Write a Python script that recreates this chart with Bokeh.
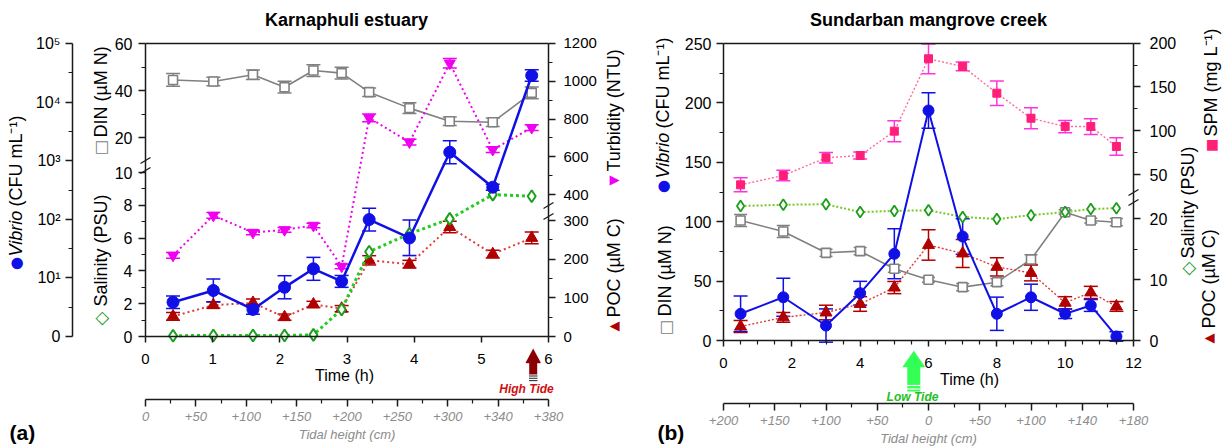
import math
from bokeh.plotting import figure
from bokeh.models import (Range1d, LinearAxis, LogAxis, LogScale, FixedTicker,
                          CustomJSTickFormatter, ColumnDataSource, Whisker, TeeHead,
                          Label, Arrow)
from bokeh.layouts import row
from bokeh.embed import file_html
from bokeh.resources import INLINE

# ---------------- (a) Karnaphuli estuary : data ----------------
ka_time = [0.41, 1.01, 1.60, 2.07, 2.50, 2.92, 3.33, 3.93, 4.53, 5.17, 5.75]
ka_vibrio = [3.85, 6.1, 2.9, 6.9, 14.3, 8.7, 99, 48, 1396, 353, 28400]
ka_vibrio_lo = [3.0, 3.9, 2.4, 4.4, 9.1, 6.9, 63, 24, 885, 314, 22700]
ka_vibrio_hi = [4.9, 9.6, 3.5, 10.9, 22.4, 11.0, 155, 97, 2200, 397, 35500]
ka_din = [44.5, 43.8, 46.7, 41.4, 48.5, 47.4, 39.3, 32.5, 26.9, 26.5, 39.0]
ka_din_err = [2.7, 1.8, 2.0, 2.5, 2.5, 2.5, 1.8, 2.3, 1.8, 1.8, 2.5]
ka_salinity = [0.05, 0.06, 0.06, 0.06, 0.10, 1.65, 5.17, 6.26, 7.17, 8.65, 8.55]
ka_turbidity = [80, 291, 201, 215, 238, 22, 806, 678, 1094, 638, 754]
ka_turbidity_err = [15, 15, 12, 12, 12, 12, 20, 15, 25, 15, 15]
ka_poc = [52, 81, 87, 50, 83, 72, 197, 187, 283, 213, 255]
ka_poc_err = [10, 8, 10, 8, 8, 8, 12, 10, 15, 10, 15]

ka_time_ticks = [0, 1, 2, 3, 4, 5, 6]
ka_tide_labels = ["0", "+50", "+100", "+150", "+200", "+250", "+300", "+340", "+380"]
ka_vib_ticks = [1, 10, 100, 1000, 10000, 100000]
ka_vib_labels = ["0", "10\u00b9", "10\u00b2", "10\u00b3", "10\u2074", "10\u2075"]
ka_sal_ticks = [0, 2, 4, 6, 8, 10]
ka_sal_minor = [1, 3, 5, 7, 9]
ka_din_ticks = [20, 40, 60]
ka_din_minor = [30, 50]
ka_poc_ticks = [0, 100, 200, 300]
ka_poc_minor = [50, 150, 250]
ka_turb_ticks = [400, 600, 800, 1000, 1200]
ka_turb_minor = [500, 700, 900, 1100]

# ---------------- (b) Sundarban mangrove creek : data ----------------
su_time = [0.5, 1.75, 3.0, 4.0, 5.0, 6.0, 7.0, 8.0, 9.0, 10.0, 10.75, 11.5]
su_vibrio = [22.5, 36.4, 12.6, 39.8, 73, 193.6, 87.5, 22.5, 36.4, 22.5, 29.5, 3.4]
su_vibrio_err = [15, 16, 14, 10, 21, 15, 15, 14, 11, 4, 5, 4]
su_din = [101, 91.8, 73.8, 75.2, 60.4, 51.1, 44.9, 49.1, 68.2, 108, 101, 99.6]
su_din_err = [5, 5, 3, 3, 3, 2, 3, 3, 4, 2, 2, 3]
su_salinity = [22.1, 22.3, 22.4, 21.1, 21.3, 21.4, 20.3, 19.95, 20.6, 21.1, 21.6, 21.75]
su_poc = [2.3, 3.8, 4.6, 6.0, 8.7, 15.7, 14.3, 12.1, 11.1, 6.2, 7.9, 5.6]
su_poc_err = [1.0, 0.8, 1.2, 1.2, 1.0, 2.5, 2.3, 1.5, 1.3, 1.0, 1.0, 0.8]
su_spm = [38.2, 48.9, 69.1, 71.7, 99.5, 182.2, 173.4, 142.9, 114.3, 104.8, 104.8, 82]
su_spm_err = [8, 6, 6, 4, 12, 17, 5, 14, 12, 7, 9, 10]

su_time_ticks = [0, 2, 4, 6, 8, 10, 12]
su_time_minor = [0.5, 1, 1.5, 2.5, 3, 3.5, 4.5, 5, 5.5, 6.5, 7, 7.5, 8.5, 9, 9.5,
                 10.5, 11, 11.5]
su_tide_labels = ["+200", "+150", "+100", "+50", "0", "+50", "+100", "+140", "+180"]
su_left_ticks = [0, 50, 100, 150, 200, 250]
su_left_minor = [25, 75, 125, 175, 225]
su_low_ticks = [0, 10, 20]
su_low_minor = [5, 15]
su_spm_ticks = [50, 100, 150, 200]
su_spm_minor = [75, 125, 175]

# ---------------- styles ----------------
FONT = "Liberation Sans"
SYM = "DejaVu Sans"
AXC = "#1a1a1a"
BLUE = "#1010e6"
GRAY = "#808080"
GREEN_M = "#1c9e1c"
GREEN_L = "#22cc22"
GREEN_L2 = "#77c924"
MAG = "#f000f0"
RED = "#b00000"
RED_L = "#e03a3a"
PINK = "#ff1f78"
PINK_E = "#ff33dd"
PINK_L = "#ff6aa0"

FMT_JS = """
let best = -1, bd = Infinity;
for (let i = 0; i < tvals.length; i++) {
  const d = Math.abs(tvals[i] - tick);
  if (d < bd) { bd = d; best = i; }
}
return (best >= 0 && bd < 1e-6 * (1 + Math.abs(tick))) ? tlabels[best] : "";
"""

W1, W2, H = 630, 595, 447     # canvas sizes (frames fill the whole canvas)
X2 = W1                       # page x of panel (b)'s left edge


def anchored(v0, q0, v1, q1, q_start, q_end):
    """Range in which value v0 sits at pixel q0 and v1 at q1; frame spans q_start..q_end."""
    k = (v1 - v0) / (q1 - q0)
    return Range1d(start=v0 + (q_start - q0) * k, end=v0 + (q_end - q0) * k)


def at_pixel(rng, q, q_start, q_end):
    return rng.start + (q - q_start) / (q_end - q_start) * (rng.end - rng.start)


def to_host(v, src, host):
    f = (v - src.start) / (src.end - src.start)
    return host.start + f * (host.end - host.start)


def fmt(vals, labels):
    return CustomJSTickFormatter(args=dict(tvals=list(vals), tlabels=list(labels)), code=FMT_JS)


def style_axis(ax, size="16px", tick_out=7, minor_out=4, standoff=6):
    ax.axis_line_color = AXC
    ax.axis_line_width = 1.5
    ax.major_tick_line_color = AXC
    ax.major_tick_line_width = 1.5
    ax.minor_tick_line_color = AXC
    ax.minor_tick_line_width = 1.2
    ax.major_tick_in = 0
    ax.major_tick_out = tick_out
    ax.minor_tick_in = 0
    ax.minor_tick_out = minor_out
    ax.major_label_text_font = FONT
    ax.major_label_text_font_size = size
    ax.major_label_text_color = "black"
    ax.major_label_standoff = standoff
    return ax


def composite_axis(host_name, host, parts, size, loc, bounds):
    majors, minors, labels = [], [], []
    for rng, mt, mn in parts:
        majors += [to_host(v, rng, host) for v in mt]
        minors += [to_host(v, rng, host) for v in mn]
        labels += [str(v) for v in mt]
    ax = LinearAxis(y_range_name=host_name, fixed_location=loc, bounds=bounds,
                    ticker=FixedTicker(ticks=majors, minor_ticks=minors),
                    formatter=fmt(majors, labels))
    return style_axis(ax, size=size)


def edge_axis(loc, bounds):
    return LinearAxis(fixed_location=loc, bounds=bounds, ticker=FixedTicker(ticks=[]),
                      axis_line_color=AXC, axis_line_width=1.5,
                      major_tick_line_color=None, minor_tick_line_color=None,
                      major_label_text_font_size="0px")


def tide_axis(labels, loc):
    n = len(labels)
    ax = LinearAxis(x_range_name="tide", fixed_location=loc, bounds=(0, n - 1),
                    ticker=FixedTicker(ticks=list(range(n)),
                                       minor_ticks=[i + 0.5 for i in range(n - 1)]),
                    formatter=fmt(range(n), labels))
    style_axis(ax, size="13px", tick_out=7, minor_out=4, standoff=5)
    ax.major_label_text_color = "#8c8c8c"
    ax.major_label_text_font_style = "italic"
    ax.axis_label = "Tidal height (cm)"
    ax.axis_label_text_font = FONT
    ax.axis_label_text_font_size = "13px"
    ax.axis_label_text_font_style = "italic"
    ax.axis_label_text_color = "#8c8c8c"
    ax.axis_label_standoff = 3
    return ax


def lab(p, x, y, text, size, color="black", angle=0.0, align="left",
        baseline="middle", font=FONT, style="normal"):
    p.add_layout(Label(x=x, y=y, x_range_name="px", y_range_name="py", text=text,
                       text_font_size=f"{size}px", text_color=color, angle=angle,
                       text_align=align, text_baseline=baseline, text_font=font,
                       text_font_style=style))


def seg(p, x0, y0, x1, y1, color=AXC, width=1.3):
    p.add_layout(Arrow(x_start=x0, y_start=y0, x_end=x1, y_end=y1, start=None, end=None,
                       line_color=color, line_width=width,
                       x_range_name="px", y_range_name="py"))


def fat_arrow(p, x, y_bottom, y_base, y_tip, body_w, head_w, color):
    seg(p, x, y_bottom, x, y_base + 0.5, color, body_w)
    n = int(round(y_base - y_tip))
    for k in range(n + 1):
        half = 0.5 * head_w * (1 - k / n)
        seg(p, x - half - 0.4, y_base - k, x + half + 0.4, y_base - k, color, 1.4)


def errbars(p, x, lo, hi, color, rname, head=12, width=1.5):
    src = ColumnDataSource(dict(x=x, lo=lo, hi=hi))
    p.add_layout(Whisker(source=src, base="x", lower="lo", upper="hi", dimension="height",
                         line_color=color, line_width=width, y_range_name=rname,
                         upper_head=TeeHead(size=head, line_color=color, line_width=width),
                         lower_head=TeeHead(size=head, line_color=color, line_width=width)))


def base_fig(x_rng, y_rng, width):
    p = figure(width=width, height=H, x_range=x_rng, y_range=y_rng,
               x_axis_location=None, y_axis_location=None, toolbar_location=None,
               output_backend="svg", min_border=0, min_border_left=0,
               min_border_right=0, min_border_top=0, min_border_bottom=0)
    p.outline_line_color = None
    p.background_fill_color = "white"
    p.border_fill_color = "white"
    p.xgrid.visible = False
    p.ygrid.visible = False
    return p


V = math.pi / 2

# =========================== panel (a) ===========================
LB, LT, LL, LR = 336, 43, 145, 548
ka_x_rng = anchored(0, LL, 6, LR, 0, W1)
ka_sal_rng = anchored(0, LB, 10, 172, H, 0)
ka_din_rng = anchored(20, 137, 60, 43, H, 0)
ka_poc_rng = anchored(0, LB, 300, 220, H, 0)
ka_turb_rng = anchored(400, 194.3, 1200, 42.7, H, 0)
ka_log = anchored(0, LB, 5, LT, H, 0)
ka_vib_rng = Range1d(10 ** ka_log.start, 10 ** ka_log.end)
ka_tide_rng = anchored(0, LL, 8, LR, 0, W1)

p1 = base_fig(ka_x_rng, ka_sal_rng, W1)
p1.extra_y_ranges = {"vib": ka_vib_rng, "din": ka_din_rng, "poc": ka_poc_rng,
                     "turb": ka_turb_rng, "py": Range1d(H, 0)}
p1.extra_y_scales = {"vib": LogScale()}
p1.extra_x_ranges = {"tide": ka_tide_rng, "px": Range1d(0, W1)}

sal_top = at_pixel(ka_sal_rng, LT, H, 0)
ax_in = composite_axis("default", ka_sal_rng,
                       [(ka_sal_rng, ka_sal_ticks, ka_sal_minor),
                        (ka_din_rng, ka_din_ticks, ka_din_minor)], "16px",
                       loc=0, bounds=(0, sal_top))
p1.add_layout(ax_in, "left")
ax_vib = LogAxis(y_range_name="vib", fixed_location=at_pixel(ka_x_rng, 72, 0, W1),
                 bounds=(1, 100000),
                 ticker=FixedTicker(ticks=ka_vib_ticks,
                                    minor_ticks=[10 ** (i + 0.5) for i in range(5)]),
                 formatter=fmt(ka_vib_ticks, ka_vib_labels))
style_axis(ax_vib, size="16px", standoff=5)
p1.add_layout(ax_vib, "left")
ax_r = composite_axis("poc", ka_poc_rng,
                      [(ka_poc_rng, ka_poc_ticks, ka_poc_minor),
                       (ka_turb_rng, ka_turb_ticks, ka_turb_minor)], "15px",
                      loc=6, bounds=(0, at_pixel(ka_poc_rng, LT, H, 0)))
ax_r.major_label_standoff = 8
p1.add_layout(ax_r, "right")
ax_t = LinearAxis(fixed_location=0, bounds=(0, 6),
                  ticker=FixedTicker(ticks=ka_time_ticks, minor_ticks=[]))
style_axis(ax_t, size="15px", tick_out=6, standoff=11)
p1.add_layout(ax_t, "below")
p1.add_layout(edge_axis(sal_top, (0, 6)), "above")
p1.add_layout(tide_axis(ka_tide_labels, at_pixel(ka_sal_rng, 399, H, 0)), "below")

# data glyphs
p1.line(ka_time, ka_din, y_range_name="din", line_color=GRAY, line_width=1.6)
errbars(p1, ka_time, [v - e for v, e in zip(ka_din, ka_din_err)],
        [v + e for v, e in zip(ka_din, ka_din_err)], GRAY, "din", head=14)
p1.scatter(ka_time, ka_din, y_range_name="din", marker="square", size=9,
           fill_color="white", line_color=GRAY, line_width=1.6)

p1.line(ka_time, ka_turbidity, y_range_name="turb", line_color=MAG, line_width=2,
        line_dash="2 3")
errbars(p1, ka_time, [v - e for v, e in zip(ka_turbidity, ka_turbidity_err)],
        [v + e for v, e in zip(ka_turbidity, ka_turbidity_err)], MAG, "turb", head=14)
p1.scatter(ka_time, ka_turbidity, y_range_name="turb", marker="inverted_triangle",
           size=11, fill_color=MAG, line_color=MAG)

p1.line(ka_time, ka_poc, y_range_name="poc", line_color=RED_L, line_width=2,
        line_dash="2 3")
errbars(p1, ka_time, [v - e for v, e in zip(ka_poc, ka_poc_err)],
        [v + e for v, e in zip(ka_poc, ka_poc_err)], RED, "poc", head=14)
p1.scatter(ka_time, ka_poc, y_range_name="poc", marker="triangle", size=12,
           fill_color=RED, line_color=RED)

p1.line(ka_time, ka_salinity, line_color=GREEN_L, line_width=3, line_dash="3 3")
p1.scatter(ka_time, ka_salinity, marker="diamond", size=12, fill_color="white",
           line_color=GREEN_M, line_width=2)

p1.line(ka_time, ka_vibrio, y_range_name="vib", line_color=BLUE, line_width=2.5)
errbars(p1, ka_time, ka_vibrio_lo, ka_vibrio_hi, BLUE, "vib", head=14)
p1.scatter(ka_time, ka_vibrio, y_range_name="vib", marker="circle", size=12,
           fill_color=BLUE, line_color=BLUE)

# texts and decorations (page pixel coordinates)
lab(p1, 346, 19, "Karnaphuli estuary", 18, "black", 0, "center", style="bold")
lab(p1, 15, 263, "\u25cf", 15, BLUE, V, "center", font=SYM)
lab(p1, 15, 256, "Vibrio", 18, "black", V, style="italic")
lab(p1, 15, 206, "(CFU mL\u207b\u00b9)", 18, "black", V)
lab(p1, 100, 147, "\u25a1", 16, GRAY, V, "center", font=SYM)
lab(p1, 100, 137, "DIN (\u00b5M N)", 18, "black", V)
lab(p1, 100, 318, "\u25c7", 18, GREEN_M, V, "center", font=SYM)
lab(p1, 100, 306, "Salinity (PSU)", 18, "black", V)
lab(p1, 613, 180, "\u25bc", 13, MAG, V, "center", font=SYM)
lab(p1, 613, 171, "Turbidity (NTU)", 18, "black", V)
lab(p1, 613, 326, "\u25b2", 13, RED, V, "center", font=SYM)
lab(p1, 613, 317, "POC (\u00b5M C)", 18, "black", V)

for yb in (160, 170):
    seg(p1, LL - 5, yb + 3, LL + 5, yb - 3)
for yb in (205, 216):
    seg(p1, LR - 5, yb + 3, LR + 5, yb - 3)

lab(p1, 344, 375, "Time (h)", 16, "black", 0, "center")
for yl in (375.5, 377.8, 380.1):
    seg(p1, 528.5, yl, 537, yl, "#333333", 1.1)
fat_arrow(p1, 532.7, 374, 362, 349, 8, 14, "#8b0000")
lab(p1, 526, 388, "High Tide", 12, "#d01010", 0, "center", style="bold italic")
lab(p1, 9, 432, "(a)", 21, "black", 0, "left", style="bold")

# =========================== panel (b) ===========================
RB, RT, RL, RR = 340, 43, 723, 1133
su_x_rng = anchored(0, RL, 12, RR, X2, X2 + W2)
su_vd_rng = anchored(0, RB, 250, RT, H, 0)
su_low_rng = anchored(0, RB, 20, 218.3, H, 0)
su_spm_rng = anchored(50, 174, 200, 42.7, H, 0)
su_tide_rng = anchored(0, RL, 8, RR, X2, X2 + W2)

p2 = base_fig(su_x_rng, su_vd_rng, W2)
p2.extra_y_ranges = {"low": su_low_rng, "spm": su_spm_rng, "py": Range1d(H, 0)}
p2.extra_x_ranges = {"tide": su_tide_rng, "px": Range1d(X2, X2 + W2)}

ax_l2 = LinearAxis(fixed_location=0, bounds=(0, 250),
                   ticker=FixedTicker(ticks=su_left_ticks, minor_ticks=su_left_minor))
style_axis(ax_l2, size="16px", standoff=5)
p2.add_layout(ax_l2, "left")
ax_r2 = composite_axis("low", su_low_rng,
                       [(su_low_rng, su_low_ticks, su_low_minor),
                        (su_spm_rng, su_spm_ticks, su_spm_minor)], "16px",
                       loc=12, bounds=(0, at_pixel(su_low_rng, RT, H, 0)))
ax_r2.major_label_standoff = 9
p2.add_layout(ax_r2, "right")
ax_t2 = LinearAxis(fixed_location=0, bounds=(0, 12),
                   ticker=FixedTicker(ticks=su_time_ticks, minor_ticks=su_time_minor))
style_axis(ax_t2, size="15px", tick_out=6, standoff=11)
p2.add_layout(ax_t2, "below")
p2.add_layout(edge_axis(250, (0, 12)), "above")
p2.add_layout(tide_axis(su_tide_labels, at_pixel(su_vd_rng, 403, H, 0)), "below")

p2.line(su_time, su_spm, y_range_name="spm", line_color=PINK_L, line_width=1.4,
        line_dash="2 2")
errbars(p2, su_time, [v - e for v, e in zip(su_spm, su_spm_err)],
        [v + e for v, e in zip(su_spm, su_spm_err)], PINK_E, "spm", head=14)
p2.scatter(su_time, su_spm, y_range_name="spm", marker="square", size=8,
           fill_color=PINK, line_color=PINK)

p2.line(su_time, su_din, line_color=GRAY, line_width=1.6)
errbars(p2, su_time, [v - e for v, e in zip(su_din, su_din_err)],
        [v + e for v, e in zip(su_din, su_din_err)], GRAY, "default", head=13)
p2.scatter(su_time, su_din, marker="square", size=9, fill_color="white",
           line_color=GRAY, line_width=1.6)

p2.line(su_time, su_salinity, y_range_name="low", line_color=GREEN_L2, line_width=2,
        line_dash="2 2")
p2.scatter(su_time, su_salinity, y_range_name="low", marker="diamond", size=11,
           fill_color="white", line_color=GREEN_M, line_width=1.8)

p2.line(su_time, su_poc, y_range_name="low", line_color=RED_L, line_width=1.4,
        line_dash="2 2")
errbars(p2, su_time, [v - e for v, e in zip(su_poc, su_poc_err)],
        [v + e for v, e in zip(su_poc, su_poc_err)], RED, "low", head=14)
p2.scatter(su_time, su_poc, y_range_name="low", marker="triangle", size=12,
           fill_color=RED, line_color=RED)

p2.line(su_time, su_vibrio, line_color=BLUE, line_width=2)
errbars(p2, su_time, [v - e for v, e in zip(su_vibrio, su_vibrio_err)],
        [v + e for v, e in zip(su_vibrio, su_vibrio_err)], BLUE, "default", head=14)
p2.scatter(su_time, su_vibrio, marker="circle", size=11, fill_color=BLUE,
           line_color=BLUE)

lab(p2, 928, 19, "Sundarban mangrove creek", 18, "black", 0, "center", style="bold")
lab(p2, 662, 186, "\u25cf", 15, BLUE, V, "center", font=SYM)
lab(p2, 662, 178, "Vibrio", 18, "black", V, style="italic")
lab(p2, 662, 128, "(CFU mL\u207b\u00b9)", 18, "black", V)
lab(p2, 665, 327, "\u25a1", 16, GRAY, V, "center", font=SYM)
lab(p2, 664, 316, "DIN (\u00b5M N)", 18, "black", V)
lab(p2, 1210, 145, "\u25a0", 14, PINK, V, "center", font=SYM)
lab(p2, 1210, 136, "SPM (mg L\u207b\u00b9)", 18, "black", V)
lab(p2, 1187, 268, "\u25c7", 18, GREEN_M, V, "center", font=SYM)
lab(p2, 1187, 258, "Salinity (PSU)", 18, "black", V)
lab(p2, 1208, 338, "\u25b2", 13, RED, V, "center", font=SYM)
lab(p2, 1208, 328, "POC (\u00b5M C)", 18, "black", V)

for yb in (192, 202):
    seg(p2, RR - 5, yb + 3, RR + 5, yb - 3)

lab(p2, 969, 379, "Time (h)", 16, "black", 0, "center")
fat_arrow(p2, 913.3, 391, 366, 351, 13, 21, "#33ff55")
for yl in (385, 388.5):
    seg(p2, 906.5, yl, 920, yl, "white", 1.2)
lab(p2, 912, 396, "Low Tide", 12, "#22c022", 0, "center", style="bold italic")
lab(p2, 657, 432, "(b)", 21, "black", 0, "left", style="bold")

layout = row(p1, p2)
open("out.html", "w").write(file_html(layout, INLINE))
